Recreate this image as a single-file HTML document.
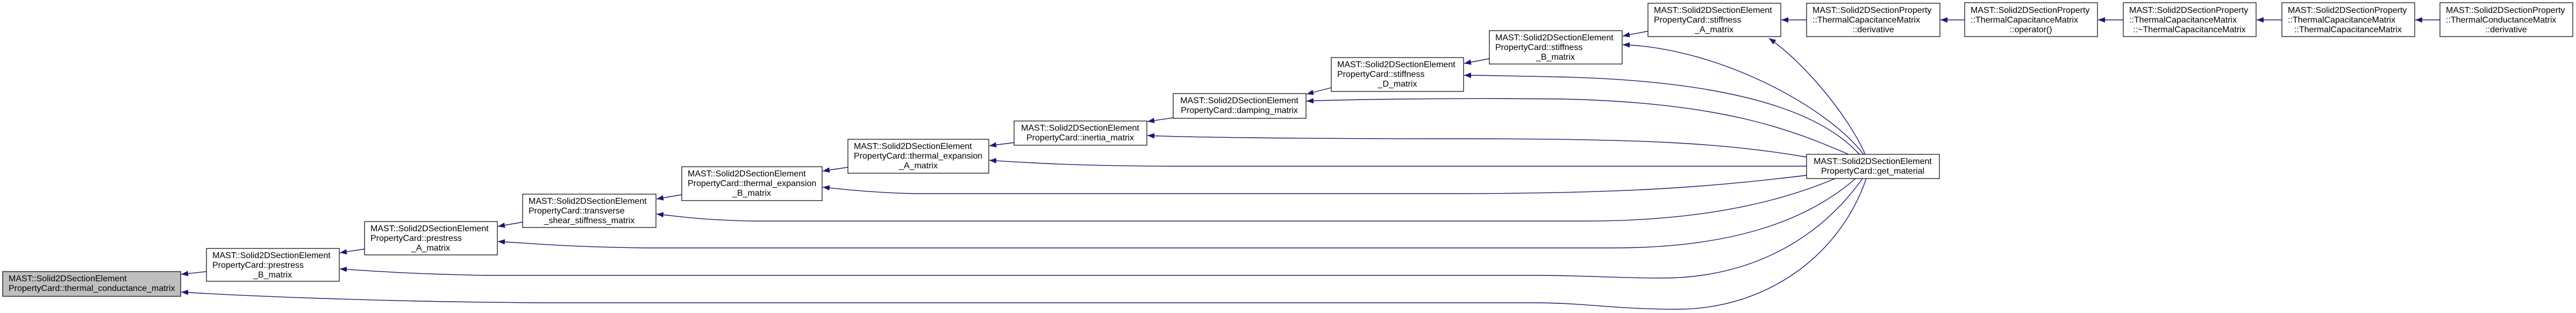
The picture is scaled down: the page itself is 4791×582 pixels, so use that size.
<!DOCTYPE html>
<html><head><meta charset="utf-8"><style>
html,body{margin:0;padding:0;background:#fff;}
svg{display:block;}
text{font-family:"Liberation Sans",Arial,sans-serif;font-size:16px;fill:#000;}
</style></head><body>
<svg width="4791" height="582" viewBox="0 0 4791 582" xmlns="http://www.w3.org/2000/svg">
<defs>
<marker id="a" markerUnits="userSpaceOnUse" markerWidth="14" markerHeight="10" refX="13" refY="5" orient="auto">
<polygon points="0,0 13,5 0,10" fill="#191970"/>
</marker>
</defs>
<g fill="none" stroke="#191970" stroke-width="1.4" marker-end="url(#a)">
<path d="M384,505 L337,510"/>
<path d="M678,463 L632,470"/>
<path d="M972,413 L926,421"/>
<path d="M1268,362 L1221,370"/>
<path d="M1577,311 L1530,318"/>
<path d="M1887,265 L1840,271"/>
<path d="M2182,219 L2134,226"/>
<path d="M2476,163 L2430,175"/>
<path d="M2770,109 L2723,118"/>
<path d="M3065,58 L3018,67"/>
<path d="M3360,37 L3313,37"/>
<path d="M3654,37 L3609,37"/>
<path d="M3949,37 L3902,37"/>
<path d="M4244,37 L4197,37"/>
<path d="M4538,37 L4492,37"/>
<path d="M3469,287 C3440,220 3360,120 3290,71"/>
<path d="M3466,287 C3400,200 3200,90 3018,83"/>
<path d="M3458,287 C3380,200 3200,150 2900,143 C2800,141 2760,140 2723,140"/>
<path d="M3438,287 C3330,240 3200,190 2900,184 C2700,182 2500,185 2430,188"/>
<path d="M3360,292 C3200,265 3050,258 2700,258 C2400,258 2200,255 2134,252"/>
<path d="M3360,309 C3000,309 2500,309 2200,309 C2000,309 1900,302 1840,298"/>
<path d="M3360,326 C3200,345 3050,360 2700,360 L1700,360 C1620,358 1570,352 1530,348"/>
<path d="M3413,332 C3300,380 3150,411 2950,411 L1400,411 C1300,409 1260,402 1221,398"/>
<path d="M3451,332 C3350,420 3200,461 3000,461 L1200,461 C1050,459 980,452 926,449"/>
<path d="M3464,332 C3380,450 3250,517 3090,517 C3000,517 2950,512 2850,512 L900,512 C750,509 680,503 632,500"/>
<path d="M3471,332 C3420,480 3280,575 3120,575 C3000,575 2950,563 2850,563 L1000,563 C700,561 450,550 337,543"/>
</g>
<g stroke="#000" stroke-width="1.2">
<rect x="5" y="505" width="331" height="46" fill="#bfbfbf"/>
<rect x="384" y="462" width="247" height="61" fill="#fff"/>
<rect x="678" y="412" width="247" height="62" fill="#fff"/>
<rect x="972" y="361" width="248" height="62" fill="#fff"/>
<rect x="1268" y="310" width="261" height="63" fill="#fff"/>
<rect x="1577" y="259" width="262" height="63" fill="#fff"/>
<rect x="1886" y="225" width="247" height="45" fill="#fff"/>
<rect x="2182" y="174" width="247" height="46" fill="#fff"/>
<rect x="2476" y="107" width="246" height="63" fill="#fff"/>
<rect x="2770" y="57" width="247" height="62" fill="#fff"/>
<rect x="3065" y="6" width="247" height="62" fill="#fff"/>
<rect x="3360" y="6" width="248" height="62" fill="#fff"/>
<rect x="3360" y="287" width="247" height="45" fill="#fff"/>
<rect x="3654" y="5" width="247" height="63" fill="#fff"/>
<rect x="3949" y="5" width="247" height="63" fill="#fff"/>
<rect x="4244" y="5" width="247" height="63" fill="#fff"/>
<rect x="4538" y="5" width="247" height="63" fill="#fff"/>
</g>
<g>
<text x="16" y="523">MAST::Solid2DSectionElement</text>
<text x="16" y="541">PropertyCard::thermal_conductance_matrix</text>
</g>
<g text-anchor="middle">
<text x="2009" y="243">MAST::Solid2DSectionElement</text>
<text x="2009" y="261">PropertyCard::inertia_matrix</text>
<text x="2305" y="192">MAST::Solid2DSectionElement</text>
<text x="2305" y="210">PropertyCard::damping_matrix</text>
<text x="3483" y="305">MAST::Solid2DSectionElement</text>
<text x="3483" y="323">PropertyCard::get_material</text>
</g>
<g>
<text x="395" y="480">MAST::Solid2DSectionElement</text><text x="395" y="498">PropertyCard::prestress</text><text x="507" y="516" text-anchor="middle">_B_matrix</text>
<text x="689" y="430">MAST::Solid2DSectionElement</text><text x="689" y="448">PropertyCard::prestress</text><text x="801" y="466" text-anchor="middle">_A_matrix</text>
<text x="983" y="379">MAST::Solid2DSectionElement</text><text x="983" y="397">PropertyCard::transverse</text><text x="1096" y="415" text-anchor="middle">_shear_stiffness_matrix</text>
<text x="1279" y="328">MAST::Solid2DSectionElement</text><text x="1279" y="346">PropertyCard::thermal_expansion</text><text x="1398" y="364" text-anchor="middle">_B_matrix</text>
<text x="1588" y="277">MAST::Solid2DSectionElement</text><text x="1588" y="295">PropertyCard::thermal_expansion</text><text x="1708" y="313" text-anchor="middle">_A_matrix</text>
<text x="2487" y="125">MAST::Solid2DSectionElement</text><text x="2487" y="143">PropertyCard::stiffness</text><text x="2599" y="161" text-anchor="middle">_D_matrix</text>
<text x="2781" y="75">MAST::Solid2DSectionElement</text><text x="2781" y="93">PropertyCard::stiffness</text><text x="2893" y="111" text-anchor="middle">_B_matrix</text>
<text x="3076" y="24">MAST::Solid2DSectionElement</text><text x="3076" y="42">PropertyCard::stiffness</text><text x="3188" y="60" text-anchor="middle">_A_matrix</text>
<text x="3371" y="24">MAST::Solid2DSectionProperty</text><text x="3371" y="42">::ThermalCapacitanceMatrix</text><text x="3484" y="60" text-anchor="middle">::derivative</text>
<text x="3665" y="24">MAST::Solid2DSectionProperty</text><text x="3665" y="42">::ThermalCapacitanceMatrix</text><text x="3777" y="60" text-anchor="middle">::operator()</text>
<text x="3960" y="24">MAST::Solid2DSectionProperty</text><text x="3960" y="42">::ThermalCapacitanceMatrix</text><text x="4072" y="60" text-anchor="middle">::~ThermalCapacitanceMatrix</text>
<text x="4255" y="24">MAST::Solid2DSectionProperty</text><text x="4255" y="42">::ThermalCapacitanceMatrix</text><text x="4367" y="60" text-anchor="middle">::ThermalCapacitanceMatrix</text>
<text x="4549" y="24">MAST::Solid2DSectionProperty</text><text x="4549" y="42">::ThermalConductanceMatrix</text><text x="4661" y="60" text-anchor="middle">::derivative</text>
</g>
</svg>
</body></html>
